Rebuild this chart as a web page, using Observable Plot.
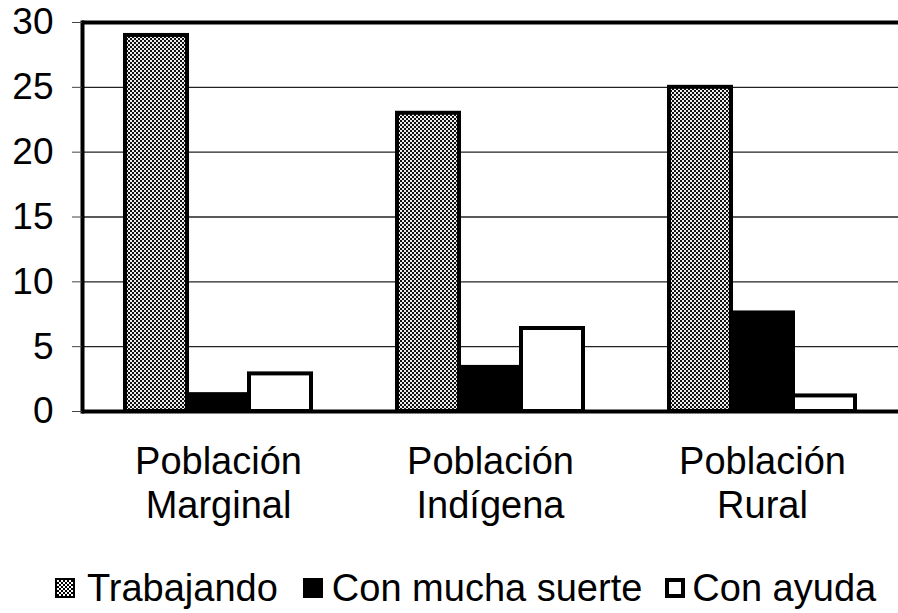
<!DOCTYPE html>
<html>
<head>
<meta charset="utf-8">
<script src="https://cdn.jsdelivr.net/npm/d3@7"></script>
<script src="https://cdn.jsdelivr.net/npm/@observablehq/plot@0.6"></script>
<style>
  html, body { margin: 0; padding: 0; background: #fff; overflow: hidden; }
  body { font-family: "Liberation Sans", Arial, Helvetica, sans-serif; color: #000; }
  #legend { display: flex; align-items: center; margin-top: 18px; padding-left: 55px;
            font-size: 38px; line-height: 44px; white-space: nowrap; }
  .item { display: flex; align-items: center; }
  .sw { width: 20px; height: 20px; box-sizing: border-box; flex: none; }
  .sw.trab { border: 2px solid #000;
             background: repeating-conic-gradient(#000 0 25%, #fff 0 50%) 0 0 / 4px 4px; }
  .sw.suerte { background: #000; }
  .sw.ayuda { background: #fff; border: 4px solid #000; }
</style>
</head>
<body>
<div id="chart"></div>
<div id="legend"></div>
<script>
// ---- data ----
const groups = ["Población\nMarginal", "Población\nIndígena", "Población\nRural"];
const series = ["Trabajando", "Con mucha suerte", "Con ayuda"];
const trabajando     = [29, 23, 25.0];
const conMuchaSuerte = [1.3, 3.4, 7.6];
const conAyuda       = [2.9, 6.4, 1.2];
const yTicks = [0, 5, 10, 15, 20, 25, 30];
const gridTicks = [5, 10, 15, 20, 25];

const seriesValues = [trabajando, conMuchaSuerte, conAyuda];
const data = groups.flatMap((g, i) =>
  series.map((s, j) => ({group: g, series: s, value: seriesValues[j][i]}))
);

const chart = Plot.plot({
  width: 898,
  height: 548,
  marginLeft: 82,
  marginRight: 0,
  marginTop: 22,
  marginBottom: 137,
  style: {fontFamily: '"Liberation Sans", Arial, Helvetica, sans-serif', background: "white", color: "black"},
  fx: {domain: groups, padding: 0, label: null},
  x: {domain: series, paddingInner: 0, paddingOuter: 0.67, axis: null},
  y: {domain: [0, 30], label: null},
  color: {domain: series, range: ["url(#pat-trabajando)", "black", "white"]},
  marks: [
    Plot.ruleY(gridTicks, {stroke: "#222", strokeWidth: 1.4}),
    Plot.barY(data, {fx: "group", x: "series", y: "value", fill: "series", stroke: "black", strokeWidth: 4}),
    Plot.ruleY([30], {stroke: "black", strokeWidth: 4}),
    Plot.ruleY([0], {stroke: "black", strokeWidth: 4}),
    Plot.frame({anchor: "left", facetAnchor: "left", stroke: "black", strokeWidth: 4}),
    Plot.axisY({ticks: yTicks, tickSize: 10, tickPadding: 19, fontSize: 37, label: null, stroke: "#444"}),
    Plot.axisFx({anchor: "bottom", tickSize: 0, tickPadding: 31, fontSize: 38, lineHeight: 1.16, label: null})
  ]
});

// checkered halftone pattern for the "Trabajando" bars
const svg = d3.select(chart);
const pat = svg.insert("defs", ":first-child")
  .append("pattern")
  .attr("id", "pat-trabajando")
  .attr("patternUnits", "userSpaceOnUse")
  .attr("width", 4).attr("height", 4);
pat.append("rect").attr("width", 4).attr("height", 4).attr("fill", "#eee");
pat.append("rect").attr("width", 2).attr("height", 2).attr("fill", "#111");
pat.append("rect").attr("x", 2).attr("y", 2).attr("width", 2).attr("height", 2).attr("fill", "#111");

document.getElementById("chart").append(chart);

// legend
const legendCls = ["trab", "suerte", "ayuda"];
const swGap = [12, 9, 7];
const itemGap = [25, 23, 0];
const legend = d3.select("#legend");
series.forEach((s, i) => {
  const it = legend.append("div").attr("class", "item").style("margin-right", itemGap[i] + "px");
  it.append("div").attr("class", "sw " + legendCls[i]).style("margin-right", swGap[i] + "px");
  it.append("span").text(s);
});
</script>
</body>
</html>
